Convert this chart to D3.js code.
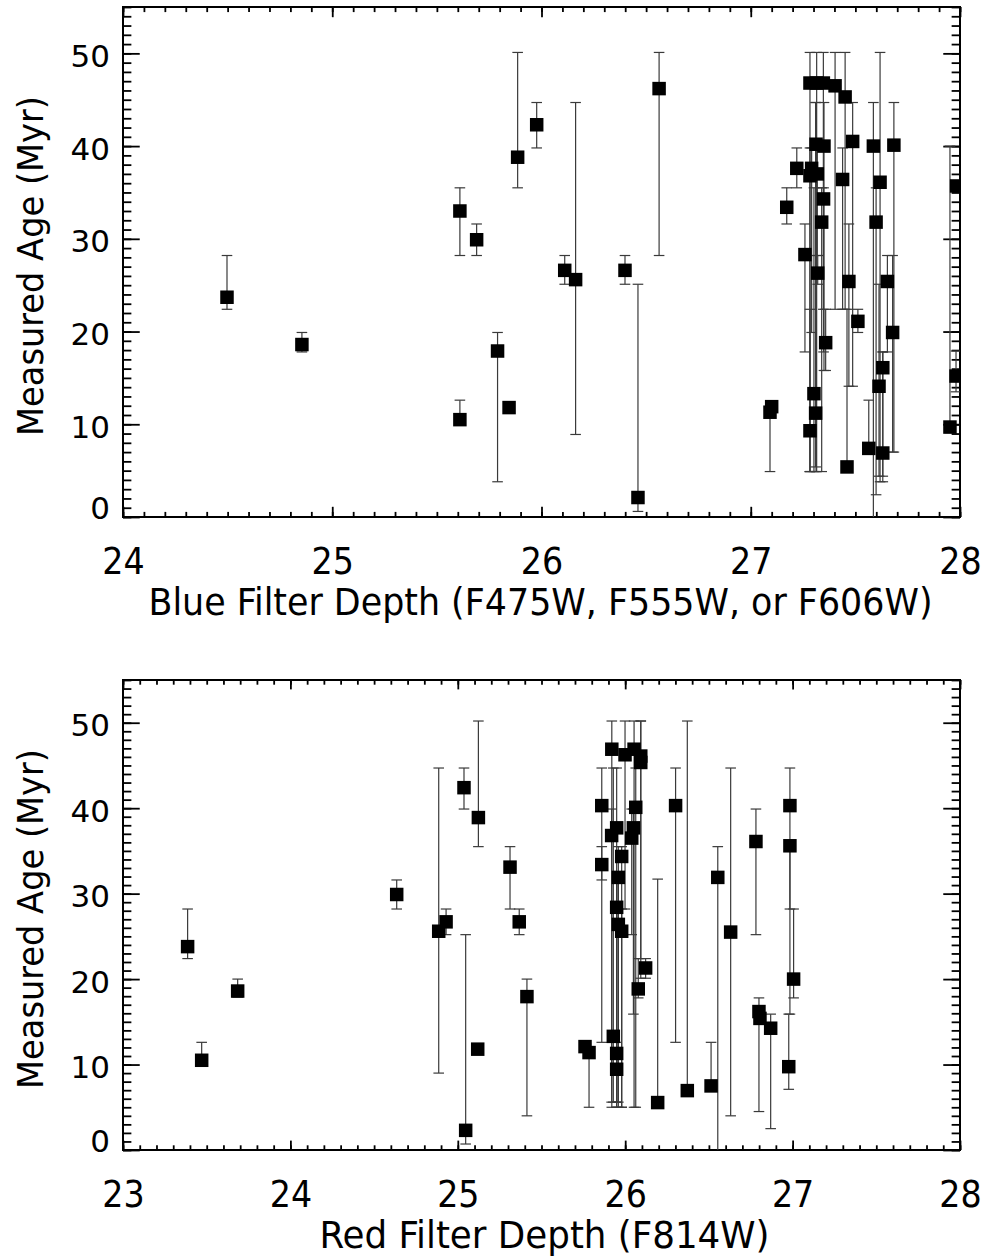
<!DOCTYPE html>
<html>
<head>
<meta charset="utf-8">
<script src="https://cdn.jsdelivr.net/npm/d3@7"></script>
<style>
  html, body { margin: 0; padding: 0; background: #fff; }
  svg { display: block; }
</style>
</head>
<body>
<div id="chart"></div>
<script>
// age axis (Myr), shared by both panels
const ageTicks = [0, 10, 20, 30, 40, 50];
const blueTicks = [24, 25, 26, 27, 28];
const redTicks = [23, 24, 25, 26, 27, 28];

// top panel: blue filter depth
const blueDepth = [24.497, 24.855, 25.61, 25.69, 25.886, 25.977, 25.61, 25.79, 25.845, 26.111,
  26.163, 26.399, 26.461, 26.562, 27.092, 27.100, 27.172, 27.22, 27.259,
  27.283, 27.315, 27.347, 27.403, 27.451, 27.312, 27.35, 27.291, 27.283, 27.318,
  27.348, 27.339, 27.32, 27.358, 27.302, 27.31, 27.283,
  27.487, 27.439, 27.469, 27.512, 27.46,
  27.586, 27.618, 27.599, 27.653, 27.678, 27.631, 27.613, 27.564, 27.631, 27.684,
  27.952, 27.984, 27.981];
const blueAge = [23.7, 18.6, 33.0, 29.9, 38.8, 42.3, 10.5, 17.9, 11.8, 26.6,
  25.6, 26.6, 2.1, 46.2, 11.3, 11.9, 33.4, 37.6, 28.3,
  46.8, 46.8, 46.8, 46.5, 45.3, 40.2, 40.0, 37.6, 36.8, 37.0,
  34.3, 31.8, 26.3, 18.8, 13.3, 11.2, 9.3,
  40.5, 36.4, 25.4, 21.1, 5.4,
  40.0, 36.1, 31.8, 25.4, 19.9, 16.1, 14.1, 7.4, 6.9, 40.1,
  9.7, 35.7, 15.2];
const blueHi = [28.2, 19.9, 35.5, 31.6, 50.1, 44.7, 12.6, 19.9, 11.8, 28.2,
  44.7, 28.2, 25.1, 50.1, 11.3, 11.9, 35.5, 39.8, 31.6,
  50.1, 50.1, 50.1, 50.1, 50.1, 44.7, 44.7, 39.8, 39.8, 39.8,
  35.5, 35.5, 28.2, 22.4, 35.5, 44.7, 22.4,
  44.7, 39.8, 31.6, 22.4, 22.4,
  44.7, 50.1, 35.5, 28.2, 28.2, 17.8, 25.1, 12.6, 17.8, 44.7,
  40.0, 35.7, 17.9];
const blueLo = [22.4, 17.8, 28.2, 28.2, 35.5, 39.8, 10.5, 3.8, 11.8, 25.1,
  8.9, 25.1, 0.6, 28.2, 4.9, 11.9, 31.6, 35.5, 17.8,
  4.9, 4.9, 22.4, 22.4, 22.4, 4.9, 15.8, 19.9, 4.9, 28.2,
  17.8, 4.9, 25.1, 15.8, 4.9, 5.4, 4.9,
  14.1, 22.4, 14.1, 19.9, 5.4,
  0, 3.8, 2.4, 17.8, 7.0, 4.4, 4.4, 7.4, 3.8, 7.0,
  9.1, 35.7, 13.5];

// bottom panel: red filter depth (F814W)
const redDepth = [23.386, 23.47, 23.685, 24.635, 24.886, 24.93, 25.037, 25.123, 25.047, 25.119,
  25.312, 25.367, 25.413, 25.76, 25.784, 25.86, 25.86,
  25.92, 25.999, 26.053, 26.093, 26.093, 26.063, 25.949, 25.919, 26.049, 26.039,
  25.979, 25.959, 25.949, 25.959, 25.979, 25.929, 25.949, 25.949,
  26.122, 26.078, 26.194, 26.301, 26.371, 26.513, 26.553, 26.63,
  26.781, 26.799, 26.805, 26.869, 26.984, 26.984, 27.006, 26.977];
const redAge = [23.8, 10.5, 18.6, 29.9, 25.6, 26.7, 42.4, 38.9, 2.3, 11.8,
  33.1, 26.7, 17.95, 12.1, 11.4, 40.3, 33.4,
  46.9, 46.25, 46.9, 46.1, 45.35, 40.1, 37.7, 36.8, 37.7, 36.5,
  34.35, 31.9, 28.4, 26.4, 25.6, 13.3, 11.3, 9.45,
  21.3, 18.85, 5.55, 40.3, 6.95, 7.5, 31.9, 25.5,
  36.1, 16.2, 15.4, 14.25, 40.3, 35.6, 20.0, 9.75];
const redHi = [28.2, 12.6, 20.0, 31.6, 44.7, 28.2, 44.7, 50.2, 25.2, 11.8,
  35.5, 28.2, 20.0, 12.1, 11.4, 44.7, 35.5,
  50.2, 50.2, 50.2, 50.2, 50.2, 44.7, 44.7, 39.9, 39.9, 39.9,
  35.5, 35.5, 31.6, 31.6, 28.2, 44.7, 31.6, 12.6,
  22.4, 22.4, 31.7, 44.7, 50.2, 12.6, 35.5, 44.7,
  39.9, 17.8, 15.4, 15.9, 44.7, 35.6, 28.2, 15.9];
const redLo = [22.4, 10.5, 17.9, 28.2, 9.0, 25.2, 39.9, 35.5, 0.7, 11.8,
  28.2, 25.2, 4.0, 12.1, 5.0, 12.6, 31.6,
  5.0, 28.2, 5.0, 20.1, 22.4, 5.0, 5.0, 5.6, 15.9, 25.2,
  5.0, 5.6, 5.6, 5.0, 5.0, 5.6, 5.6, 5.0,
  20.1, 17.8, 5.55, 12.6, 6.95, 7.5, 0, 4.0,
  25.2, 4.5, 15.4, 2.5, 28.2, 15.9, 17.8, 7.1];

const W = 985, H = 1256;
const svg = d3.select('#chart').append('svg')
  .attr('width', W).attr('height', H)
  .attr('viewBox', `0 0 ${W} ${H}`);
svg.append('rect').attr('width', W).attr('height', H).attr('fill', '#fff');

const monoFont = '"Liberation Sans Narrow", "DejaVu Sans Condensed", "Liberation Sans", sans-serif';
const roundFont = '"DejaVu Sans", "Liberation Sans", sans-serif';

function drawPanel(p, depth, age, hi, lo, xTicks, title, id) {
  const w = p.right - p.left;
  const h = p.bottom - p.top;
  const g = svg.append('g').attr('transform', `translate(${p.left},${p.top})`);

  const x = d3.scaleLinear().domain(p.xDomain).range([0, w]);
  const y = d3.scaleLinear().domain([0, 55]).range([h, 0]);

  const xLen = 0.02 * h, yLen = 0.02 * w;
  const xMinor = d3.range(p.xDomain[0], p.xDomain[1] + 0.001, 0.1);
  const yMinor = d3.range(0, 55.001, 1);

  g.append('clipPath').attr('id', id)
    .append('rect').attr('width', w).attr('height', h);

  const styleAxis = sel => {
    sel.select('.domain').remove();
    sel.selectAll('line').attr('stroke', '#000').attr('stroke-width', 1.8);
  };

  // ── x axes (bottom with labels, top mirrored) ──
  g.append('g').attr('transform', `translate(0,${h})`)
    .call(d3.axisBottom(x).tickValues(xMinor).tickSize(-xLen / 2).tickFormat(''))
    .call(styleAxis);
  const xb = g.append('g').attr('transform', `translate(0,${h})`)
    .call(d3.axisBottom(x).tickValues(xTicks).tickSizeInner(-xLen).tickSizeOuter(0)
      .tickPadding(31).tickFormat(d3.format('d')))
    .call(styleAxis);
  xb.selectAll('text')
    .attr('font-family', monoFont).attr('font-size', 37).attr('fill', '#000');

  g.append('g')
    .call(d3.axisTop(x).tickValues(xMinor).tickSize(-xLen / 2).tickFormat(''))
    .call(styleAxis);
  g.append('g')
    .call(d3.axisTop(x).tickValues(xTicks).tickSize(-xLen).tickFormat(''))
    .call(styleAxis);

  // ── y axes (left with labels, right mirrored) ──
  g.append('g')
    .call(d3.axisLeft(y).tickValues(yMinor).tickSize(-yLen / 2).tickFormat(''))
    .call(styleAxis);
  const yl = g.append('g')
    .call(d3.axisLeft(y).tickValues(ageTicks).tickSizeInner(-yLen).tickSizeOuter(0)
      .tickPadding(13).tickFormat(d3.format('d')))
    .call(styleAxis);
  yl.selectAll('text')
    .attr('font-family', roundFont).attr('font-size', 31).attr('fill', '#000')
    .attr('dy', '0.42em');
  yl.selectAll('.tick').filter(d => d === 0).select('text').attr('y', -12);

  g.append('g').attr('transform', `translate(${w},0)`)
    .call(d3.axisRight(y).tickValues(yMinor).tickSize(-yLen / 2).tickFormat(''))
    .call(styleAxis);
  g.append('g').attr('transform', `translate(${w},0)`)
    .call(d3.axisRight(y).tickValues(ageTicks).tickSize(-yLen).tickFormat(''))
    .call(styleAxis);

  // frame
  g.append('rect').attr('width', w).attr('height', h)
    .attr('fill', 'none').attr('stroke', '#000').attr('stroke-width', 2);

  // ── error bars + squares ──
  const marks = g.append('g').attr('clip-path', `url(#${id})`);
  const cap = 5.3, sq = 13.5;
  depth.forEach((v, i) => {
    const cx = x(v);
    if (hi[i] > age[i] || lo[i] < age[i]) {
      marks.append('line')
        .attr('x1', cx).attr('x2', cx)
        .attr('y1', y(hi[i])).attr('y2', y(lo[i]))
        .attr('stroke', '#3a3a3a').attr('stroke-width', 1.2);
    }
    if (hi[i] > age[i]) {
      marks.append('line')
        .attr('x1', cx - cap).attr('x2', cx + cap)
        .attr('y1', y(hi[i])).attr('y2', y(hi[i]))
        .attr('stroke', '#3a3a3a').attr('stroke-width', 1.2);
    }
    if (lo[i] < age[i] && lo[i] > 0) {
      marks.append('line')
        .attr('x1', cx - cap).attr('x2', cx + cap)
        .attr('y1', y(lo[i])).attr('y2', y(lo[i]))
        .attr('stroke', '#3a3a3a').attr('stroke-width', 1.2);
    }
  });
  depth.forEach((v, i) => {
    marks.append('rect')
      .attr('x', x(v) - sq / 2).attr('y', y(age[i]) - sq / 2)
      .attr('width', sq).attr('height', sq)
      .attr('fill', '#000');
  });

  // titles
  svg.append('text')
    .attr('x', p.left + w / 2 + p.titleShift).attr('y', p.bottom + 98)
    .attr('text-anchor', 'middle')
    .attr('font-family', monoFont).attr('font-size', 37)
    .attr('textLength', p.titleLen).attr('lengthAdjust', 'spacingAndGlyphs')
    .text(title);

  svg.append('text')
    .attr('transform', `translate(43,${p.top + h / 2 + 4}) rotate(-90)`)
    .attr('text-anchor', 'middle')
    .attr('font-family', roundFont).attr('font-size', 35)
    .attr('textLength', 340).attr('lengthAdjust', 'spacingAndGlyphs')
    .text('Measured Age (Myr)');
}

drawPanel({ left: 123, right: 960, top: 7, bottom: 517, xDomain: [24, 28], titleLen: 784, titleShift: -1 },
  blueDepth, blueAge, blueHi, blueLo, blueTicks,
  'Blue Filter Depth (F475W, F555W, or F606W)', 'clipBlue');

drawPanel({ left: 123, right: 960, top: 680, bottom: 1150, xDomain: [23, 28], titleLen: 450, titleShift: 3 },
  redDepth, redAge, redHi, redLo, redTicks,
  'Red Filter Depth (F814W)', 'clipRed');
</script>
</body>
</html>
